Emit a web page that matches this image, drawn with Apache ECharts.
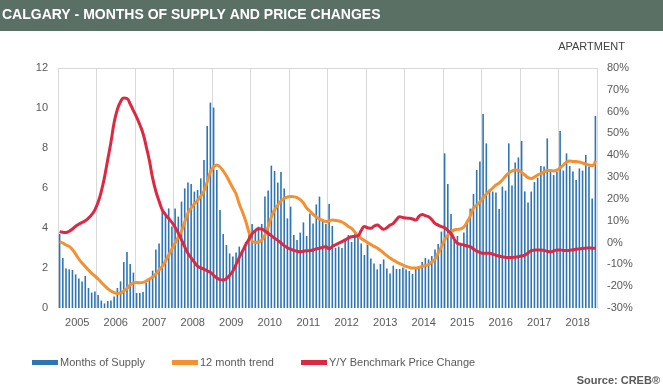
<!DOCTYPE html>
<html>
<head>
<meta charset="utf-8">
<script src="https://cdn.jsdelivr.net/npm/echarts@6/dist/echarts.min.js"></script>
<style>
  html, body { margin: 0; padding: 0; background: #ffffff; }
  #chart { width: 663px; height: 389px; }
</style>
</head>
<body>
<div id="chart"></div>
<script>
// ---- data ----
const years = ['2005','2006','2007','2008','2009','2010','2011','2012','2013','2014','2015','2016','2017','2018'];
const monthNames = ['Jan','Feb','Mar','Apr','May','Jun','Jul','Aug','Sep','Oct','Nov','Dec'];

const monthsOfSupply = [
  3.7, 2.5, 1.97, 1.93, 1.9, 1.68, 1.47, 1.33, 1.6, 1.0, 0.77, 0.82,
  0.65, 0.37, 0.23, 0.35, 0.37, 0.57, 1.0, 1.33, 2.3, 2.8, 2.2, 1.77,
  0.75, 0.75, 0.8, 1.27, 1.4, 1.87, 2.93, 3.23, 4.95, 4.7, 4.98, 4.07,
  4.98, 4.57, 5.32, 5.98, 6.27, 6.2, 5.82, 5.9, 6.48, 7.4, 9.1, 10.27,
  10.02, 6.9, 4.9, 3.7, 3.15, 2.73, 2.57, 2.77, 3.07, 2.75, 3.3, 3.75,
  4.2, 3.9, 4.07, 4.2, 5.57, 5.87, 7.12, 6.85, 6.27, 6.8, 5.98, 4.48,
  5.07, 3.65, 3.4, 3.77, 4.28, 3.6, 4.73, 4.23, 5.18, 5.57, 4.4, 4.2,
  5.2, 4.1, 3.0, 3.07, 3.0, 3.35, 3.65, 3.3, 3.73, 3.6, 3.23, 2.65,
  3.17, 2.48, 2.23, 1.93, 2.2, 2.43, 1.97, 1.73, 2.12, 1.95, 1.95, 2.03,
  1.93, 1.85, 1.7, 1.98, 2.07, 2.3, 2.5, 2.43, 2.6, 2.93, 3.2, 3.82,
  7.73, 6.2, 4.7, 3.4, 3.6, 3.2, 3.78, 4.3, 4.97, 5.7, 6.9, 7.32,
  9.7, 8.23, 5.93, 5.82, 5.77, 4.95, 6.07, 5.87, 8.23, 6.12, 7.28, 7.53,
  8.35, 5.82, 5.27, 5.82, 6.3, 6.52, 7.1, 7.07, 8.48, 6.9, 6.65, 6.82,
  8.85, 6.87, 7.73, 7.1, 6.82, 6.4, 6.98, 6.87, 7.65, 7.07, 5.48, 9.6
];

const trend12 = [
  3.32, 3.25, 3.15, 3.08, 2.92, 2.7, 2.45, 2.25, 2.08, 1.9, 1.73, 1.6,
  1.45, 1.28, 1.12, 0.97, 0.85, 0.77, 0.73, 0.75, 0.85, 0.98, 1.15, 1.25,
  1.27, 1.26, 1.28, 1.35, 1.45, 1.55, 1.7, 1.9, 2.08, 2.35, 2.65, 2.95,
  3.25, 3.55, 3.85, 4.3, 4.75, 5.0, 5.2, 5.38, 5.6, 5.85, 6.3, 6.8,
  7.05, 7.15, 7.05, 6.85, 6.6, 6.3, 6.0, 5.7, 5.2, 4.8, 4.35, 3.8,
  3.35, 3.27, 3.3, 3.4, 3.65, 4.05, 4.55, 4.9, 5.15, 5.35, 5.48, 5.55,
  5.57, 5.56, 5.52, 5.42, 5.25, 5.0, 4.85, 4.68, 4.55, 4.45, 4.38, 4.32,
  4.35, 4.4, 4.38, 4.35, 4.3, 4.2, 4.08, 3.98, 3.8, 3.6, 3.48, 3.38,
  3.28, 3.18, 3.08, 3.0, 2.88, 2.75, 2.62, 2.5, 2.4, 2.3, 2.22, 2.15,
  2.08, 2.03, 2.0, 2.0, 2.03, 2.08, 2.13, 2.17, 2.3, 2.45, 2.75, 3.05,
  3.4, 3.65, 3.8, 3.9, 3.93, 3.96, 4.05, 4.3, 4.6, 5.0, 5.15, 5.3,
  5.5, 5.7, 5.85, 6.0, 6.15, 6.25, 6.4, 6.6, 6.75, 6.85, 6.9, 6.88,
  6.78, 6.65, 6.52, 6.48, 6.55, 6.65, 6.72, 6.8, 6.87, 6.88, 6.85, 6.9,
  7.0, 7.15, 7.3, 7.35, 7.33, 7.32, 7.3, 7.25, 7.2, 7.15, 7.12, 7.37
];

const priceChangeYY = [
  5.0, 4.7, 4.6, 5.2, 6.2, 7.5, 8.4, 9.2, 10.0, 11.2, 12.8, 15.0,
  18.5, 23.5, 30.0, 38.0, 46.0, 55.0, 61.0, 64.5, 66.3, 66.0, 63.5, 60.5,
  57.5, 54.0, 50.0, 44.0, 37.5, 29.5, 23.5, 19.0, 15.0, 12.8, 11.0, 9.2,
  7.0, 4.3, 1.2, -2.0, -4.9, -7.0, -9.0, -10.8, -11.6, -12.2, -13.0, -13.6,
  -15.0, -16.2, -17.0, -17.2, -16.5, -15.0, -13.0, -10.0, -6.8, -4.0, -1.0, 1.5,
  4.0, 5.4, 6.3, 6.2, 5.3, 4.3, 3.2, 2.0, 1.0, -0.2, -1.4, -2.4,
  -3.0, -3.6, -4.0, -4.2, -4.0, -3.8, -3.7, -3.4, -2.9, -2.6, -2.2, -1.9,
  -2.8, -1.8, -1.0, -0.3, 0.4, 1.2, 2.0, 2.7, 2.8, 3.1, 5.5, 7.3,
  6.8, 6.5, 7.5, 8.0, 7.0, 6.1, 6.8, 8.0, 8.8, 10.5, 11.8, 11.5,
  11.2, 11.1, 10.8, 10.3, 12.0, 12.9, 12.3, 11.8, 10.5, 8.8, 8.0, 7.3,
  6.8, 5.5, 4.2, 1.5, -0.3, -0.8, -1.1, -1.6, -1.9, -3.0, -3.9, -4.5,
  -4.9, -4.9, -4.9, -5.3, -5.8, -6.2, -6.5, -6.8, -6.9, -6.8, -6.7, -6.5,
  -6.2, -5.8, -4.8, -3.7, -3.5, -3.4, -3.4, -3.6, -4.0, -4.2, -3.8, -3.4,
  -3.4, -3.6, -3.7, -3.5, -3.3, -3.1, -2.9, -2.7, -2.6, -2.5, -2.6, -2.6
];

const leftTicks = { min: 0, max: 12, interval: 2 };
const rightTicks = { min: -30, max: 80, interval: 10 };

// monthly categories built from years x months
const months = [];
years.forEach(y => monthNames.forEach(m => months.push(m + ' ' + y)));

const FONT = '"Liberation Sans", Arial, sans-serif';
const LABEL = '#595959';
const GRID = '#d9d9d9';

const chart = echarts.init(document.getElementById('chart'), null, { renderer: 'canvas' });
chart.setOption({
  animation: false,
  backgroundColor: '#ffffff',
  textStyle: { fontFamily: FONT },
  graphic: [{
    type: 'rect', left: 0, top: 0, z: 0,
    shape: { width: 663, height: 31 },
    style: { fill: '#5a7064' }
  }],
  title: [
    { text: 'CALGARY - MONTHS OF SUPPLY AND PRICE CHANGES', left: 2, top: 8, padding: 0, z: 10,
      textStyle: { color: '#ffffff', fontSize: 14, fontWeight: 'bold', fontFamily: FONT } },
    { text: 'APARTMENT', right: 38, top: 41, padding: 0,
      textStyle: { color: '#404040', fontSize: 11, fontWeight: 'normal', fontFamily: FONT } },
    { text: 'Source: CREB®', right: 3, top: 375, padding: 0,
      textStyle: { color: LABEL, fontSize: 11, fontWeight: 'bold', fontFamily: FONT } }
  ],
  legend: {
    left: 27, top: 352, icon: 'rect', itemWidth: 26, itemHeight: 5, itemGap: 27,
    textStyle: { color: LABEL, fontSize: 11, fontFamily: FONT, padding: [0, 0, 0, -3] },
    data: ['Months of Supply', '12 month trend', 'Y/Y Benchmark Price Change']
  },
  grid: { left: 58, right: 66, top: 68, bottom: 81, containLabel: false },
  xAxis: [
    { type: 'category', data: months, boundaryGap: true,
      axisLine: { show: false }, axisTick: { show: false }, axisLabel: { show: false }, splitLine: { show: false } },
    { type: 'category', data: years, boundaryGap: true, position: 'bottom',
      axisLine: { show: false }, axisTick: { show: false },
      axisLabel: { color: LABEL, fontSize: 11, margin: 9, fontFamily: FONT },
      splitLine: { show: true, lineStyle: { color: GRID, width: 1 } } },
    { type: 'category', data: years, boundaryGap: true, position: 'top',
      axisLine: { show: true, lineStyle: { color: GRID, width: 1 } }, axisTick: { show: false },
      axisLabel: { show: false }, splitLine: { show: false } }
  ],
  yAxis: [
    { type: 'value', min: leftTicks.min, max: leftTicks.max, interval: leftTicks.interval, position: 'left',
      axisLine: { show: false }, axisTick: { show: false }, splitLine: { show: false },
      axisLabel: { color: LABEL, fontSize: 11, margin: 10, fontFamily: FONT } },
    { type: 'value', min: rightTicks.min, max: rightTicks.max, interval: rightTicks.interval, position: 'right',
      axisLine: { show: false }, axisTick: { show: false }, splitLine: { show: false },
      axisLabel: { color: LABEL, fontSize: 11, margin: 10, fontFamily: FONT, formatter: '{value}%' } }
  ],
  series: [
    { name: 'Months of Supply', type: 'bar', xAxisIndex: 0, yAxisIndex: 0, data: monthsOfSupply,
      barWidth: 1.6, itemStyle: { color: '#2e75b6' } },
    { name: '12 month trend', type: 'line', xAxisIndex: 0, yAxisIndex: 0, data: trend12,
      smooth: true, symbol: 'none', lineStyle: { color: '#f4902f', width: 3 }, itemStyle: { color: '#f4902f' } },
    { name: 'Y/Y Benchmark Price Change', type: 'line', xAxisIndex: 0, yAxisIndex: 1, data: priceChangeYY,
      smooth: true, symbol: 'none', lineStyle: { color: '#dc2843', width: 3 }, itemStyle: { color: '#dc2843' } }
  ]
});
</script>
</body>
</html>
